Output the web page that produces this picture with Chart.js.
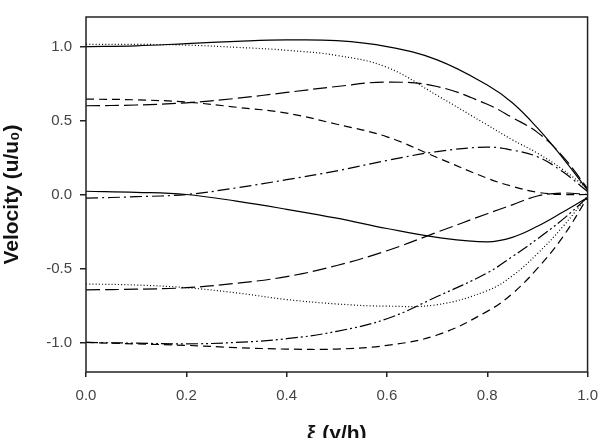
<!DOCTYPE html>
<html>
<head>
<meta charset="utf-8">
<script src="https://cdn.jsdelivr.net/npm/chart.js@4"></script>
<style>
  body { margin: 0; background: #fff; }
</style>
</head>
<body>
<canvas id="velocityChart" width="608" height="438"></canvas>
<script>
// positions along the channel, xi = y/h
const xi = [0, 0.1, 0.2, 0.3, 0.4, 0.5, 0.6, 0.7, 0.8, 0.85, 0.9, 0.95, 1.0];

// velocity profiles u/u0
const solidTop    = [1.0, 1.005, 1.02, 1.035, 1.045, 1.04, 1.0, 0.91, 0.74, 0.62, 0.45, 0.25, 0.03];
const dottedTop   = [1.015, 1.015, 1.01, 0.995, 0.975, 0.94, 0.86, 0.67, 0.47, 0.37, 0.28, 0.17, 0.04];
const longDashTop = [0.60, 0.605, 0.62, 0.65, 0.69, 0.73, 0.76, 0.73, 0.61, 0.52, 0.42, 0.26, 0.04];
const dashTop     = [0.645, 0.64, 0.625, 0.59, 0.55, 0.475, 0.39, 0.25, 0.11, 0.055, 0.015, 0.0, 0.0];
const dashDot     = [-0.025, -0.015, 0.0, 0.045, 0.10, 0.16, 0.23, 0.29, 0.32, 0.30, 0.255, 0.155, 0.02];
const solidLow    = [0.022, 0.015, 0.0, -0.045, -0.10, -0.16, -0.23, -0.29, -0.32, -0.29, -0.215, -0.12, -0.02];
const longDashLow = [-0.645, -0.64, -0.63, -0.60, -0.555, -0.48, -0.38, -0.255, -0.13, -0.07, -0.01, 0.01, 0.0];
const dottedLow   = [-0.605, -0.612, -0.63, -0.665, -0.71, -0.74, -0.755, -0.745, -0.65, -0.55, -0.40, -0.22, -0.01];
const dashDotDot  = [-1.0, -1.005, -1.01, -1.0, -0.975, -0.925, -0.84, -0.69, -0.53, -0.42, -0.30, -0.17, -0.02];
const dashLow     = [-1.0, -1.01, -1.02, -1.035, -1.045, -1.045, -1.02, -0.95, -0.79, -0.67, -0.50, -0.29, -0.02];

const xTicks = [0, 0.2, 0.4, 0.6, 0.8, 1.0];
const yTicks = [-1.0, -0.5, 0.0, 0.5, 1.0];

function series(values, dash, width) {
    return {
        data: xi.map((x, i) => ({ x: x, y: values[i] })),
        borderColor: "#000",
        borderWidth: width || 1.2,
        borderDash: dash,
        pointRadius: 0,
        fill: false,
        tension: 0.4
    };
}

const longDash = [14, 5];
const medDash = [8, 5];
const dot = [1, 2.2];
const dashDotPattern = [12, 4, 2, 4];
const dashDotDotPattern = [12, 3, 2, 3, 2, 3];

// draws the closed box round the plot area
const frame = {
    id: "frame",
    afterDatasetsDraw(chart) {
        const a = chart.chartArea;
        const ctx = chart.ctx;
        ctx.save();
        ctx.strokeStyle = "#222";
        ctx.lineWidth = 1.5;
        ctx.strokeRect(a.left, a.top, a.right - a.left, a.bottom - a.top);
        ctx.restore();
    }
};

document.addEventListener("DOMContentLoaded", function() {
    const ctx = document.getElementById("velocityChart").getContext("2d");
    new Chart(ctx, {
        type: "line",
        data: {
            datasets: [
                series(solidTop, []),
                series(dottedTop, dot),
                series(longDashTop, longDash),
                series(dashTop, medDash),
                series(dashDot, dashDotPattern),
                series(solidLow, []),
                series(longDashLow, longDash),
                series(dottedLow, dot),
                series(dashDotDot, dashDotDotPattern),
                series(dashLow, medDash)
            ]
        },
        options: {
            responsive: false,
            animation: false,
            layout: { padding: { left: 0, top: 9, right: 19, bottom: 0 } },
            plugins: { legend: { display: false }, tooltip: { enabled: false } },
            scales: {
                x: {
                    type: "linear",
                    min: 0,
                    max: 1,
                    afterBuildTicks: s => { s.ticks = xTicks.map(v => ({ value: v })); },
                    afterFit: s => { s.height = 66; },
                    border: { display: false },
                    grid: { drawOnChartArea: false, drawTicks: true, tickLength: 5, color: "#222", lineWidth: 1.5 },
                    ticks: {
                        padding: 10,
                        color: "#444",
                        font: { family: "Liberation Sans", size: 15 },
                        callback: v => Number(v).toFixed(1)
                    },
                    title: {
                        display: true,
                        text: "\u03BE (y/h)",
                        color: "#111",
                        font: { family: "Liberation Sans", size: 21, weight: "bold" },
                        padding: { top: 0, bottom: -9 }
                    }
                },
                y: {
                    type: "linear",
                    min: -1.2,
                    max: 1.2,
                    afterBuildTicks: s => { s.ticks = yTicks.map(v => ({ value: v })); },
                    afterFit: s => { s.width = 86; },
                    border: { display: false },
                    grid: { drawOnChartArea: false, drawTicks: true, tickLength: 6, color: "#222", lineWidth: 1.5 },
                    ticks: {
                        padding: 8,
                        color: "#444",
                        font: { family: "Liberation Sans", size: 15 },
                        callback: v => Number(v).toFixed(1)
                    },
                    title: {
                        display: true,
                        text: "Velocity (u/u\u2080)",
                        color: "#111",
                        font: { family: "Liberation Sans", size: 21, weight: "bold" },
                        padding: { top: 0, bottom: 0 }
                    }
                }
            }
        },
        plugins: [frame]
    });
});
</script>
</body>
</html>
